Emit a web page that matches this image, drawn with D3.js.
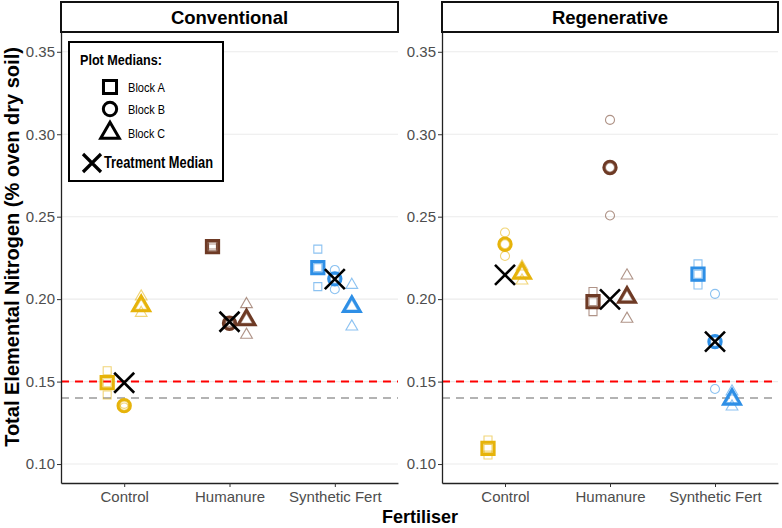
<!DOCTYPE html>
<html>
<head>
<meta charset="utf-8">
<script src="https://cdn.jsdelivr.net/npm/d3@7"></script>
<style>
  body { margin: 0; background: #fff; }
  text { font-family: "Liberation Sans", Arial, sans-serif; }
</style>
</head>
<body>
<div id="chart"></div>
<script>
// data
var managements = ["Conventional", "Regenerative"];
var fertilisers = ["Control", "Humanure", "Synthetic Fert"];
var blocks = ["Block A", "Block B", "Block C"];
var fertColours = ["#E6B30A", "#6E3A25", "#2E8FE6"];

// replicate values: [fertiliser][block][replicate], middle one is the plot median
var conventionalReps = [
  [[0.1566, 0.1493, 0.1419], [0.1365, 0.1354, 0.1343], [0.2015, 0.1959, 0.1916]],
  [[0.2328, 0.2319, 0.2310], [0.1862, 0.1854, 0.1846], [0.1969, 0.1874, 0.1783]],
  [[0.2303, 0.2191, 0.2076], [0.2177, 0.2123, 0.2060], [0.2086, 0.1955, 0.1833]]
];
var regenerativeReps = [
  [[0.1146, 0.1095, 0.1055], [0.2404, 0.2333, 0.2262], [0.2197, 0.2157, 0.2112]],
  [[0.2046, 0.1985, 0.1924], [0.3087, 0.2798, 0.2507], [0.2143, 0.2011, 0.1880]],
  [[0.2214, 0.2151, 0.2086], [0.2032, 0.1742, 0.1455], [0.1439, 0.1393, 0.1348]]
];
var conventionalMedians = [0.1493, 0.1863, 0.2121];
var regenerativeMedians = [0.2147, 0.1999, 0.1742];

var yTicks = [0.10, 0.15, 0.20, 0.25, 0.30, 0.35];
var refLines = [{v: 0.15, c: "#FF0000"}, {v: 0.14, c: "#B3B3B3"}];

var W = 782, H = 528;
var plotTop = 32, plotBottom = 483;
var panels = [
  {name: managements[0], x0: 61, x1: 398, reps: conventionalReps, med: conventionalMedians},
  {name: managements[1], x0: 442, x1: 778, reps: regenerativeReps, med: regenerativeMedians}
];

var svg = d3.select("#chart")
  .append("svg")
    .attr("width", W)
    .attr("height", H);

var y = d3.scaleLinear()
  .domain([0.0885, 0.362])
  .range([plotBottom, plotTop]);

var offset = d3.scalePoint()
  .domain(blocks)
  .range([-17, 17]);

var shapes = [d3.symbolSquare, d3.symbolCircle, d3.symbolTriangle];
var smallSize = [64, 64, 60];
var bigSize = [150, 120, 125];

panels.forEach(function(p) {
  var x = d3.scalePoint()
    .domain(fertilisers)
    .range([p.x0, p.x1])
    .padding(0.6);

  var g = svg.append("g");

  // grid
  g.selectAll(".grid")
    .data(yTicks)
    .join("line")
      .attr("x1", p.x0).attr("x2", p.x1)
      .attr("y1", d => y(d)).attr("y2", d => y(d))
      .attr("stroke", "#EBEBEB")
      .attr("stroke-width", 1.1);

  // reference lines
  g.selectAll(".ref")
    .data(refLines)
    .join("line")
      .attr("x1", p.x0).attr("x2", p.x1)
      .attr("y1", d => y(d.v)).attr("y2", d => y(d.v))
      .attr("stroke", d => d.c)
      .attr("stroke-width", 2)
      .attr("stroke-dasharray", "8,6");

  // axes
  g.append("g")
    .attr("transform", `translate(${p.x0},0)`)
    .call(d3.axisLeft(y).tickValues(yTicks).tickFormat(d3.format(".2f")).tickSize(4).tickSizeOuter(0))
    .call(a => a.select(".domain").attr("stroke", "#222").attr("stroke-width", 1.3))
    .call(a => a.selectAll(".tick line").attr("stroke", "#333"))
    .call(a => a.selectAll("text").attr("fill", "#4D4D4D").style("font-size", "15px")
      .style("font-family", "Liberation Sans, Arial, sans-serif").attr("x", -6));

  g.append("g")
    .attr("transform", `translate(0,${plotBottom})`)
    .call(d3.axisBottom(x).tickSize(4).tickSizeOuter(0))
    .call(a => a.select(".domain").attr("stroke", "#222").attr("stroke-width", 1.3))
    .call(a => a.selectAll(".tick line").attr("stroke", "#333"))
    .call(a => a.selectAll("text").attr("fill", "#4D4D4D").style("font-size", "15px")
      .style("font-family", "Liberation Sans, Arial, sans-serif").attr("y", 8));

  // strip
  g.append("rect")
    .attr("x", p.x0).attr("y", 2)
    .attr("width", p.x1 - p.x0).attr("height", plotTop - 2)
    .attr("fill", "#fff")
    .attr("stroke", "#111")
    .attr("stroke-width", 2);
  g.append("text")
    .attr("x", (p.x0 + p.x1) / 2).attr("y", 24)
    .attr("text-anchor", "middle")
    .style("font-size", "18.5px").style("font-weight", "bold")
    .text(p.name);

  // flatten points
  var small = [], big = [];
  fertilisers.forEach(function(f, fi) {
    blocks.forEach(function(b, bi) {
      p.reps[fi][bi].forEach(function(v) {
        small.push({f: f, fi: fi, b: b, bi: bi, v: v});
      });
      big.push({f: f, fi: fi, b: b, bi: bi, v: d3.median(p.reps[fi][bi])});
    });
  });

  g.selectAll(".small")
    .data(small)
    .join("path")
      .attr("transform", d => `translate(${x(d.f) + offset(d.b)},${y(d.v)})`)
      .attr("d", d => d3.symbol(shapes[d.bi], smallSize[d.bi])())
      .attr("fill", "none")
      .attr("stroke", d => fertColours[d.fi])
      .attr("stroke-opacity", 0.55)
      .attr("stroke-width", 1.1);

  g.selectAll(".big")
    .data(big)
    .join("path")
      .attr("transform", d => `translate(${x(d.f) + offset(d.b)},${y(d.v)})`)
      .attr("d", d => d3.symbol(shapes[d.bi], bigSize[d.bi])())
      .attr("fill", "none")
      .attr("stroke", d => fertColours[d.fi])
      .attr("stroke-width", 3);

  // treatment median crosses
  g.selectAll(".cross")
    .data(p.med)
    .join("path")
      .attr("transform", (d, i) => `translate(${x(fertilisers[i])},${y(d)})`)
      .attr("d", "M-10,-10L10,10M-10,10L10,-10")
      .attr("stroke", "#000")
      .attr("stroke-width", 2.6)
      .attr("fill", "none");
});

// legend
var leg = svg.append("g");
leg.append("rect")
  .attr("x", 69).attr("y", 42)
  .attr("width", 154).attr("height", 139)
  .attr("fill", "#fff")
  .attr("stroke", "#000")
  .attr("stroke-width", 2);
leg.append("text")
  .attr("x", 80).attr("y", 65)
  .attr("textLength", 82).attr("lengthAdjust", "spacingAndGlyphs")
  .style("font-size", "14px").style("font-weight", "bold")
  .text("Plot Medians:");

var legY = [87, 109, 133];
blocks.forEach(function(b, i) {
  leg.append("path")
    .attr("transform", `translate(110,${legY[i]})`)
    .attr("d", d3.symbol(shapes[i], [170, 140, 150][i])())
    .attr("fill", "none")
    .attr("stroke", "#000")
    .attr("stroke-width", 3);
  leg.append("text")
    .attr("x", 128).attr("y", legY[i] + 4.5)
    .attr("textLength", 37).attr("lengthAdjust", "spacingAndGlyphs")
    .style("font-size", "13px")
    .text(b);
});
leg.append("path")
  .attr("transform", "translate(92,163)")
  .attr("d", "M-9,-9L9,9M-9,9L9,-9")
  .attr("stroke", "#000")
  .attr("stroke-width", 3.2);
leg.append("text")
  .attr("x", 104).attr("y", 168)
  .attr("textLength", 109).attr("lengthAdjust", "spacingAndGlyphs")
  .style("font-size", "16px").style("font-weight", "bold")
  .text("Treatment Median");

// axis titles
svg.append("text")
  .attr("transform", "translate(19,247)rotate(-90)")
  .attr("text-anchor", "middle")
  .style("font-size", "20px").style("font-weight", "bold")
  .text("Total Elemental Nitrogen (% oven dry soil)");
svg.append("text")
  .attr("x", 420).attr("y", 523)
  .attr("text-anchor", "middle")
  .style("font-size", "18px").style("font-weight", "bold")
  .text("Fertiliser");
</script>
</body>
</html>
